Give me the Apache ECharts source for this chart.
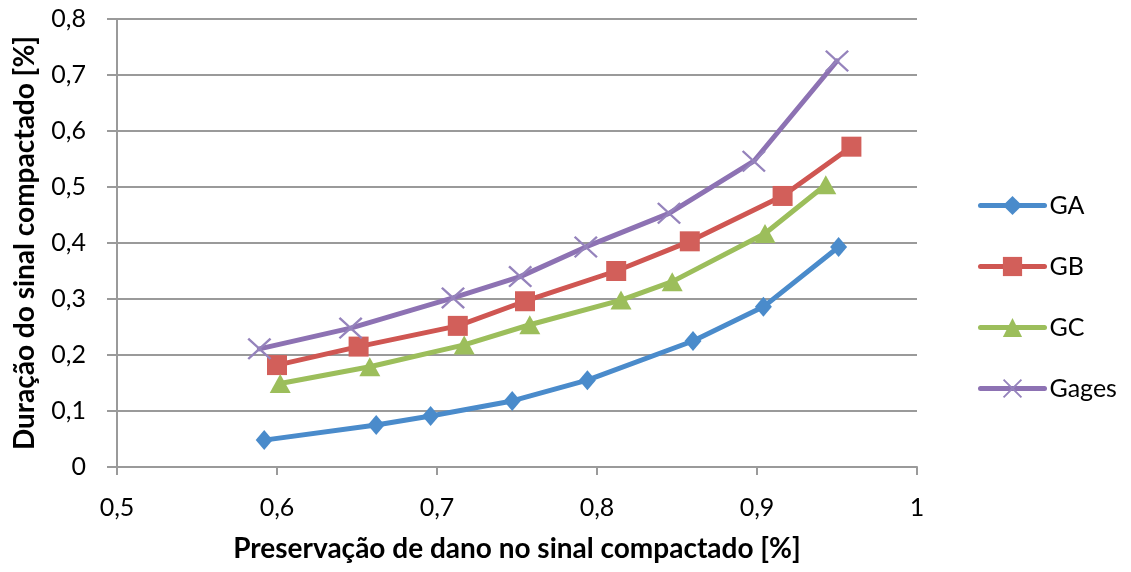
<!DOCTYPE html>
<html>
<head>
<meta charset="utf-8">
<script src="https://cdn.jsdelivr.net/npm/echarts@6/dist/echarts.min.js"></script>
<style>
  html, body { margin: 0; padding: 0; background: #fff; }
  #chart { width: 1131px; height: 572px; }
</style>
</head>
<body>
<div id="chart"></div>
<script>
// Damage preservation (x) vs. compacted signal duration (y) for each method
const gaX    = [0.592, 0.662, 0.696, 0.747, 0.794, 0.860, 0.904, 0.951];
const gaY    = [0.048, 0.075, 0.091, 0.118, 0.155, 0.225, 0.286, 0.393];
const gbX    = [0.600, 0.651, 0.713, 0.755, 0.812, 0.858, 0.916, 0.959];
const gbY    = [0.182, 0.215, 0.252, 0.296, 0.350, 0.403, 0.484, 0.572];
const gcX    = [0.602, 0.658, 0.717, 0.758, 0.815, 0.847, 0.905, 0.943];
const gcY    = [0.149, 0.179, 0.218, 0.254, 0.298, 0.331, 0.417, 0.504];
const gagesX = [0.589, 0.646, 0.710, 0.752, 0.793, 0.845, 0.898, 0.950];
const gagesY = [0.211, 0.248, 0.302, 0.340, 0.393, 0.453, 0.546, 0.725];

const seriesNames = ['GA', 'GB', 'GC', 'Gages'];
const xTicks = [0.5, 0.6, 0.7, 0.8, 0.9, 1.0];
const yTicks = [0, 0.1, 0.2, 0.3, 0.4, 0.5, 0.6, 0.7, 0.8];

const FONT = 'Lato, "Open Sans", sans-serif';
const AXIS_GREY = '#9a9a9a';
const lineColors   = ['#4A8BCB', '#CF5652', '#9CBE5B', '#8D72B3'];
const markerColors = ['#4A8BCB', '#D25F5A', '#9CBE5B', '#9583BC'];
const crossPath = 'path://M0,0.7 L0.7,0 L5,4.3 L9.3,0 L10,0.7 L5.7,5 L10,9.3 L9.3,10 L5,5.7 L0.7,10 L0,9.3 L4.3,5 Z';
const symbols = ['diamond', 'rect', 'triangle', crossPath];
const symbolSizes = [[17, 20], [20, 20], [21, 19], [24, 22]];

const pair = (xs, ys) => xs.map((x, i) => [x, ys[i]]);
const dataSets = [pair(gaX, gaY), pair(gbX, gbY), pair(gcX, gcY), pair(gagesX, gagesY)];

// decimal comma tick text, e.g. 0,5
const fmt = v => {
  const s = Number.isInteger(v) ? String(v) : v.toFixed(1);
  return s.replace('.', ',');
};
const isTick = (list, v) => list.some(t => Math.abs(t - v) < 1e-9);

const chart = echarts.init(document.getElementById('chart'), null, { renderer: 'canvas' });
chart.setOption({
  animation: false,
  backgroundColor: '#ffffff',
  grid: { left: 117, right: 214, top: 19, bottom: 105, containLabel: false },
  legend: {
    orient: 'vertical',
    left: 978,
    top: 193,
    padding: 0,
    itemGap: 36,
    itemWidth: 64,
    itemHeight: 24,
    lineStyle: { width: 5, cap: 'round' },
    textStyle: { fontFamily: FONT, fontSize: 25, color: '#000' },
    data: seriesNames
  },
  xAxis: {
    type: 'value',
    min: 0.5, max: 1.0, interval: 0.1,
    name: 'Preservação de dano no sinal compactado [%]',
    nameLocation: 'middle',
    nameGap: 68,
    nameTextStyle: { fontFamily: FONT, fontSize: 28, fontWeight: 'bold', color: '#000' },
    axisLine: { show: true, lineStyle: { color: AXIS_GREY, width: 2 } },
    axisTick: { show: true, length: 8, lineStyle: { color: AXIS_GREY, width: 2 } },
    axisLabel: {
      fontFamily: FONT, fontSize: 25, color: '#000', margin: 28,
      formatter: v => isTick(xTicks, v) ? fmt(v) : ''
    },
    splitLine: { show: false }
  },
  yAxis: {
    type: 'value',
    min: 0, max: 0.8, interval: 0.1,
    name: 'Duração do sinal compactado [%]',
    nameLocation: 'middle',
    nameGap: 78,
    nameTextStyle: { fontFamily: FONT, fontSize: 28, fontWeight: 'bold', color: '#000' },
    axisLine: { show: true, lineStyle: { color: AXIS_GREY, width: 2 } },
    axisTick: { show: true, length: 10, lineStyle: { color: AXIS_GREY, width: 2 } },
    axisLabel: {
      fontFamily: FONT, fontSize: 25, color: '#000', margin: 31,
      formatter: v => isTick(yTicks, v) ? fmt(v) : ''
    },
    splitLine: { show: true, lineStyle: { color: AXIS_GREY, width: 2 } }
  },
  series: seriesNames.map((name, i) => ({
    name,
    type: 'line',
    data: dataSets[i],
    symbol: symbols[i],
    symbolSize: symbolSizes[i],
    showAllSymbol: true,
    lineStyle: { width: 5, color: lineColors[i], cap: 'round', join: 'round' },
    itemStyle: { color: markerColors[i], borderWidth: 0 },
    z: 2 + i
  }))
});
</script>
</body>
</html>
